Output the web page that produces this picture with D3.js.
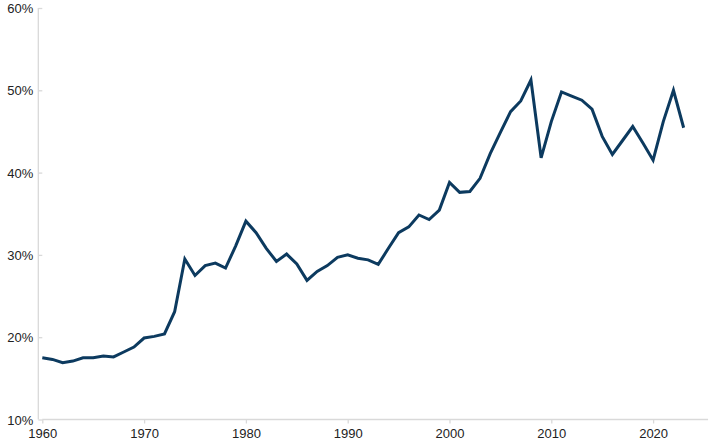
<!DOCTYPE html>
<html>
<head>
<meta charset="utf-8">
<script src="https://cdn.jsdelivr.net/npm/d3@7"></script>
<style>
  html, body { margin: 0; padding: 0; background: #fff; }
  svg { display: block; }
  .tick text { font-family: 'Liberation Sans', Arial, sans-serif; font-size: 13px; fill: #222; }
</style>
</head>
<body>
<div id="chart"></div>
<script>
'use strict';

// Data: share (%) by year, 1960–2023
const years = d3.range(1960, 2024);
const values = [
  17.5, 17.3, 16.9, 17.1, 17.5, 17.5, 17.7, 17.6, 18.2, 18.8,
  19.9, 20.1, 20.4, 23.1, 29.5, 27.5, 28.7, 29.0, 28.4, 31.1,
  34.1, 32.7, 30.8, 29.2, 30.1, 28.9, 26.9, 28.0, 28.7, 29.7,
  30.0, 29.6, 29.4, 28.85, 30.8, 32.7, 33.4, 34.85, 34.3, 35.45,
  38.8, 37.6, 37.7, 39.3, 42.3, 44.9, 47.4, 48.7, 51.25, 41.8,
  46.2, 49.8, 49.3, 48.8, 47.7, 44.4, 42.2, 43.9, 45.6, 43.6,
  41.5, 46.2, 50.0, 45.45
];
const xTicks = [1960, 1970, 1980, 1990, 2000, 2010, 2020];
const yTicks = [10, 20, 30, 40, 50, 60];

const W = 721, H = 446;
const x0 = 42.3, perYear = 10.18;

const x = d3.scaleLinear()
    .domain([1960, 2025.4])
    .range([x0, x0 + 65.4 * perYear]);
const y = d3.scaleLinear()
    .domain([10, 60])
    .range([419.5, 8]);

const svg = d3.select('#chart').append('svg')
    .attr('width', W)
    .attr('height', H);

// Y axis
const yAxis = svg.append('g')
    .attr('transform', `translate(${x0},0)`)
    .call(d3.axisLeft(y).tickValues(yTicks).tickSize(4).tickPadding(7)
        .tickFormat(d => d + '%'));
yAxis.selectAll('line, path').attr('stroke', '#d9d9d9').attr('stroke-width', 1.3);
yAxis.select('.domain').attr('d', `M-4,${y(10)}V${y(60)}`);
yAxis.selectAll('.tick text').attr('dy', '0.36em').attr('x', -9);

// X axis
const xAxis = svg.append('g')
    .attr('transform', `translate(0,${y(10)})`)
    .call(d3.axisBottom(x).tickValues(xTicks).tickSize(4).tickPadding(5)
        .tickFormat(d3.format('d')));
xAxis.selectAll('line, path').attr('stroke', '#d9d9d9').attr('stroke-width', 1.3);
xAxis.select('.domain').attr('d', `M${x0},0H${x.range()[1]}`);

// Line
const line = d3.line()
    .x((d, i) => x(years[i]))
    .y(d => y(d));

svg.append('path')
    .datum(values)
    .attr('fill', 'none')
    .attr('stroke', '#0c3a5f')
    .attr('stroke-width', 3)
    .attr('stroke-linejoin', 'miter')
    .attr('d', line);
</script>
</body>
</html>
